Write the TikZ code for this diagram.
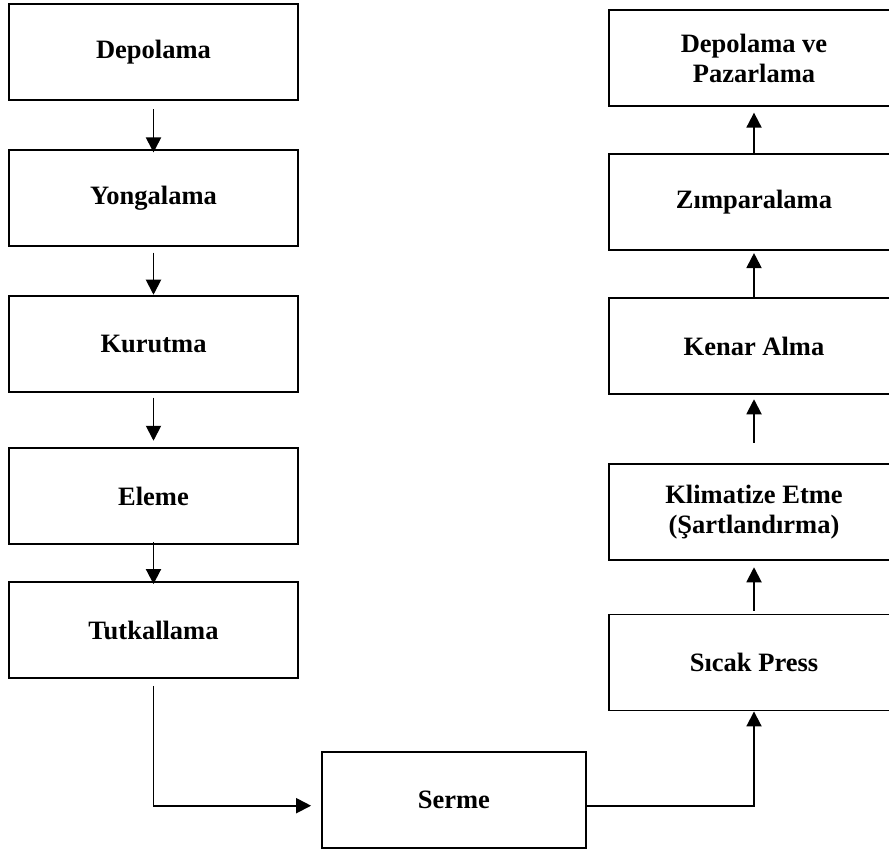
\documentclass[tikz,border=0pt]{standalone}
\usepackage{fontspec}
\setmainfont{Liberation Serif}
\usetikzlibrary{arrows.meta,calc}
\begin{document}
\begin{tikzpicture}[x=1pt,y=-1pt,
  box/.style={draw=black,line width=1.9pt,fill=white,inner sep=0pt,
    minimum height=96pt,align=center,
    font=\fontsize{26.5}{30}\selectfont\bfseries},
  lbox/.style={box,minimum width=288.4pt},
  rbox/.style={box,minimum width=289.4pt},
  arr/.style={line width=1.9pt,-{Triangle[length=15pt,width=15pt]}}]
\clip (0,0) rectangle (889,850);
\fill[white] (0,0) rectangle (889,850);
% left column
\node[lbox] (dep) at (153.5,51.7) {Depolama};
\node[lbox] (yon) at (153.5,198.4) {Yongalama};
\node[lbox] (kur) at (153.5,343.7) {Kurutma};
\node[lbox] (ele) at (153.5,496.3) {Eleme};
\node[lbox] (tut) at (153.5,630.3) {Tutkallama};
% bottom
\node[box,minimum width=264.3pt,minimum height=95.7pt] (ser) at (453.9,800.2) {Serme};
% right column
\node[rbox] (dp)  at (754,58)    {Depolama ve\\Pazarlama};
\node[rbox] (zim) at (754,201.7) {Zımparalama};
\node[rbox] (ken) at (754,346.3) {Kenar Alma};
\node[rbox] (kli) at (754,512.3) {Klimatize Etme\\(Şartlandırma)};
\node[rbox] (sic) at (754,662.5) {Sıcak Press};
% left arrows
\draw[arr,shorten <=8.7pt,shorten >=-3pt] (dep.south) -- (yon.north);
\draw[arr,shorten <=5.3pt] (yon.south) -- (kur.north);
\draw[arr,shorten <=5pt,shorten >=6.6pt] (kur.south) -- (ele.north);
\draw[arr,shorten <=-3pt,shorten >=-2.7pt] (ele.south) -- (tut.north);
% right arrows
\draw[arr,shorten >=5.7pt] (zim.north) -- (dp.south);
\draw[arr,shorten >=2.4pt] (ken.north) -- (zim.south);
\draw[arr,shorten <=20.7pt,shorten >=4pt] (kli.north) -- (ken.south);
\draw[arr,shorten <=2.6pt,shorten >=6pt] (sic.north) -- (kli.south);
% bottom connectors
\coordinate (serin) at ($(ser.west)+(0,5.5)$);
\coordinate (serout) at ($(ser.east)+(0,5.5)$);
\draw[arr,shorten <=6.7pt,shorten >=9.7pt] (tut.south) |- (serin);
\draw[arr] (serout) -| (sic.south);
\end{tikzpicture}
\end{document}
